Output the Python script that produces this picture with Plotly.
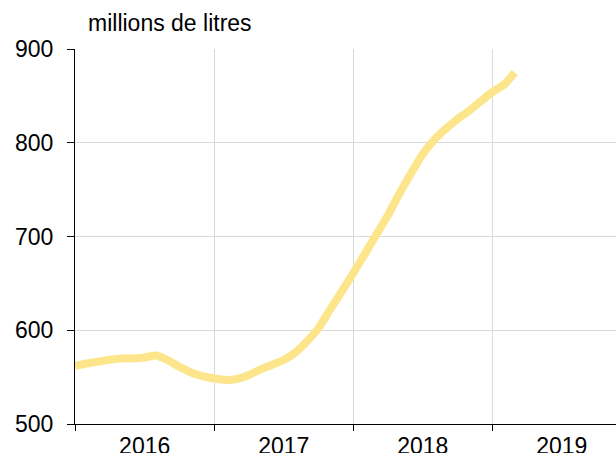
import pandas as pd
import plotly.graph_objects as go

months = pd.date_range("2016-01-01", periods=39, freq="MS")
values = [562, 564.5, 566.5, 568.5, 570, 570, 571, 573, 568, 561, 555, 551,
          548.5, 547, 548, 552, 558, 563, 568, 576, 588, 602, 622, 641,
          661, 682, 701, 722, 745, 767, 787, 803, 815, 825, 834, 844,
          854, 862, 875]
unit_label = "millions de litres"

fig = go.Figure()
fig.add_trace(go.Scatter(
    x=months, y=values, mode="lines",
    line=dict(color="#fce58a", width=8, shape="spline", smoothing=0.6),
    hoverinfo="skip", showlegend=False,
))

font = "Liberation Sans, Arial, sans-serif"
fig.update_layout(
    width=616, height=453,
    margin=dict(l=75, r=0, t=49, b=29),
    paper_bgcolor="white", plot_bgcolor="white",
    font=dict(family=font, size=23, color="black"),
    xaxis=dict(
        range=["2016-01-01", "2019-11-22"],
        tick0="2016-01-01", dtick="M12", tickformat="%Y",
        ticklabelmode="period",
        showgrid=True, gridcolor="#d9d9d9", gridwidth=1,
        showline=True, linecolor="black", linewidth=1,
        ticks="outside", ticklen=6, tickcolor="black",
        ticklabelstandoff=-5,
        tickfont=dict(size=23, family=font), zeroline=False,
        automargin=False,
    ),
    yaxis=dict(
        range=[500, 900], dtick=100, tick0=500,
        showgrid=True, gridcolor="#d9d9d9", gridwidth=1,
        showline=True, linecolor="black", linewidth=1,
        ticks="outside", ticklen=7, tickcolor="black",
        ticklabelstandoff=9,
        tickfont=dict(size=23, family=font), zeroline=False,
        automargin=False,
    ),
    annotations=[dict(
        text=unit_label, xref="paper", yref="paper", x=0, y=1,
        xanchor="left", yanchor="bottom", xshift=11, yshift=11,
        showarrow=False, font=dict(size=23, family=font, color="black"),
    )],
)

fig.write_html(
    "out.html",
    config={"displayModeBar": False},
    post_script="document.body.style.margin='0';document.body.style.overflow='hidden';",
)
